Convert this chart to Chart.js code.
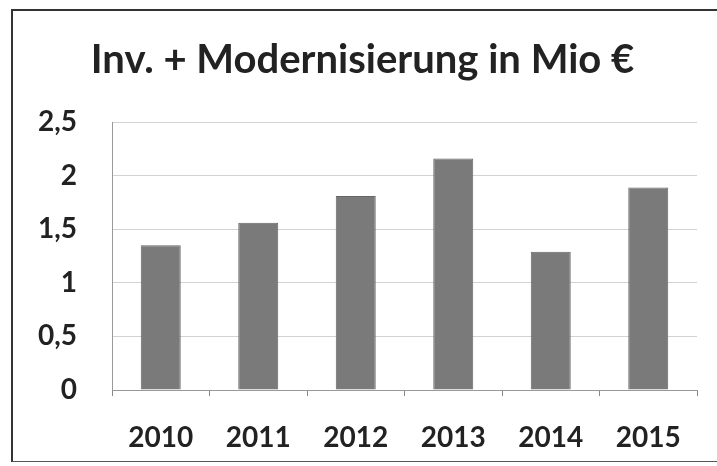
<!DOCTYPE html>
<html>
<head>
<meta charset="utf-8">
<script src="https://cdn.jsdelivr.net/npm/chart.js@4"></script>
<style>
  html, body { margin: 0; padding: 0; background: #fff; overflow: hidden; }
  #wrap { position: relative; width: 717px; height: 466px; overflow: hidden; }
  #frame {
    position: absolute; left: 11px; top: 9px; width: 740px; height: 450px;
    border-left: 2px solid #333; border-top: 2px solid #333; border-bottom: 1px solid #555;
    pointer-events: none;
  }
</style>
</head>
<body>
<div id="wrap">
  <canvas id="invChart" width="717" height="466"></canvas>
  <div id="frame"></div>
</div>
<script>
const years = ["2010", "2011", "2012", "2013", "2014", "2015"];
const investments = [1.35, 1.56, 1.81, 2.16, 1.29, 1.89];
const yTicks = [0, 0.5, 1, 1.5, 2, 2.5];
const chartTitle = "Inv. + Modernisierung in Mio €";

document.addEventListener("DOMContentLoaded", function () {
  const ctx = document.getElementById("invChart").getContext("2d");

  const invChartConfig = {
    type: "bar",
    data: {
      labels: years,
      datasets: [
        {
          label: "Inv. + Modernisierung",
          data: investments,
          backgroundColor: "#7a7a7a",
          borderColor: "#666",
          borderWidth: 1,
          barPercentage: 0.41,
          categoryPercentage: 1,
        },
      ],
    },
    options: {
      responsive: false,
      animation: false,
      layout: { padding: { left: 28, right: 20, top: 0, bottom: 13 } },
      plugins: {
        legend: { display: false },
        tooltip: { enabled: false },
        title: {
          display: true,
          text: chartTitle,
          color: "#222",
          font: { family: "Lato", size: 40, weight: "bold" },
          padding: { top: 36, bottom: 38 },
        },
      },
      scales: {
        x: {
          afterFit: function (scale) {
            scale.height = 63;
          },
          grid: { offset: true, drawOnChartArea: false, drawTicks: true, tickLength: 6, color: "#888" },
          border: { color: "#999" },
          ticks: { color: "#222", padding: 25, font: { family: "Lato", size: 28, weight: "bold" } },
        },
        y: {
          min: 0,
          max: 2.5,
          afterBuildTicks: function (scale) {
            scale.ticks = yTicks.map(function (v) { return { value: v }; });
          },
          afterFit: function (scale) {
            scale.width = 84;
          },
          grid: { color: "#d2d2d2", drawTicks: false },
          border: { color: "#999" },
          ticks: {
            color: "#222",
            padding: 35,
            font: { family: "Lato", size: 28, weight: "bold" },
            callback: function (value) {
              return String(value).replace(".", ",");
            },
          },
        },
      },
    },
  };

  new Chart(ctx, invChartConfig);
});
</script>
</body>
</html>
